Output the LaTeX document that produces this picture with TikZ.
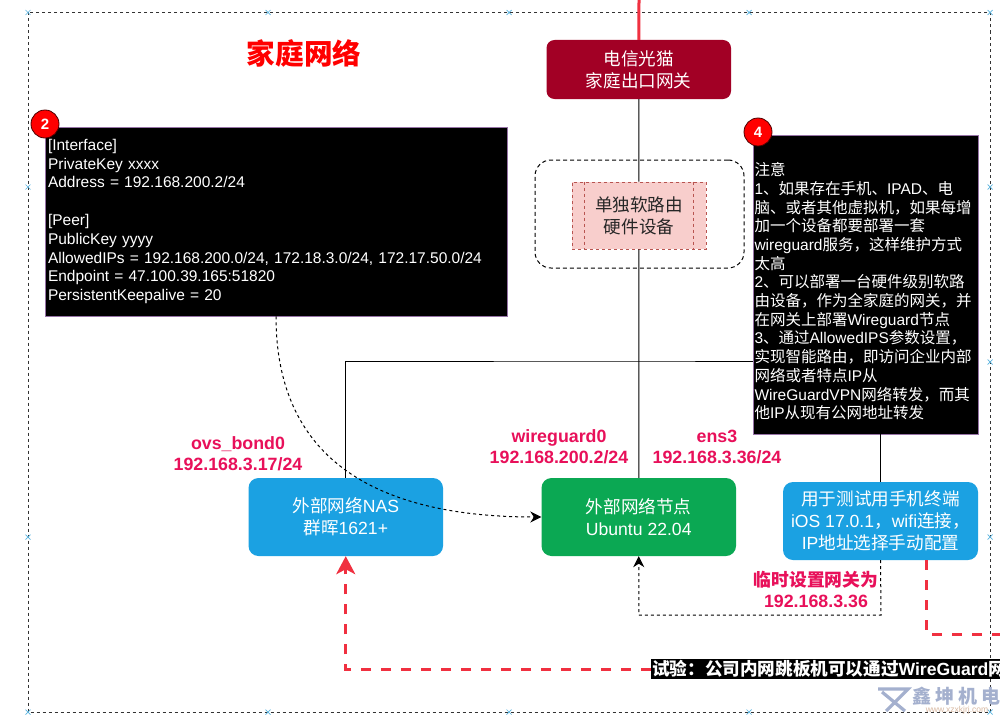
\documentclass[tikz,border=0pt]{standalone}
\usepackage{fontspec}
\usetikzlibrary{arrows.meta}
\setmainfont{Liberation Sans}
\newfontfamily\cjk{Noto Sans CJK SC}
\newcommand{\zh}[1]{{\cjk #1}}
\definecolor{modemred}{HTML}{A20025}
\definecolor{routerpink}{HTML}{F8CECC}
\definecolor{routerline}{HTML}{B85450}
\definecolor{nasblue}{HTML}{1BA1E2}
\definecolor{nodegreen}{HTML}{0BA853}
\definecolor{labelred}{HTML}{E8105A}
\definecolor{testred}{HTML}{F03040}
\definecolor{markblue}{HTML}{5AB4E0}
\definecolor{boxedge}{HTML}{9673A6}
\definecolor{wmgray}{HTML}{A4B0CE}
\definecolor{wmtan}{HTML}{D8B8A0}
\tikzset{
  devicebox/.style={rounded corners=10pt,text=white,align=center,font=\fontsize{17.6}{22}\selectfont,inner sep=0pt},
  blackbox/.style={fill=black,draw=boxedge,line width=0.9pt,text=white,align=left,inner sep=0pt},
  badge/.style={circle,fill=red,draw=black!70!red,line width=0.8pt,text=white,minimum size=28pt,inner sep=0pt,font=\fontsize{15}{15}\selectfont\bfseries},
  iplabel/.style={text=labelred,align=center,font=\fontsize{17.8}{21}\selectfont\bfseries,inner sep=0pt},
  testline/.style={testred,line width=3pt,dash pattern=on 10pt off 10pt},
  thinlink/.style={black,line width=1pt},
  dashlink/.style={black,line width=1pt,dash pattern=on 3pt off 3pt},
}
\begin{document}
\begin{tikzpicture}[x=1pt,y=-1pt]
  \useasboundingbox (0,0) rectangle (1000,717);
  \clip (0,0) rectangle (1000,717);
  \fill [white] (0,0) rectangle (1000,717);
  % outer frame
  \draw [black!80,line width=1pt,dash pattern=on 3pt off 3pt] (28,12.5) rectangle (990,712);
  \foreach \px/\py in {28/12.5,268/12.5,509/12.5,749/12.5,990/12.5,28/187,28/537,28/712,268/712,509/712,749/712,990/712,990/187,990/362,990/537}
    \draw [markblue,line width=0.7pt] (\px-2.5,\py-2.5) -- (\px+2.5,\py+2.5) (\px-2.5,\py+2.5) -- (\px+2.5,\py-2.5);
  \node (title) at (304,53) [text=red,inner sep=0pt,font=\fontsize{28.6}{28.6}\selectfont\cjk\bfseries] {家庭网络};
  % links behind the devices
  \coordinate (uplink) at (639,0);
  \coordinate (bus) at (639,361);
  \coordinate (testcorner) at (926,634);
  \coordinate (testend) at (1000,634);
  \node (routergroup) at (639.5,214) [draw=black,line width=1pt,dash pattern=on 4pt off 3pt,rounded corners=16pt,minimum width=209pt,minimum height=108pt] {};
  % devices
  \node (modem) at (638.75,69.5) [devicebox,fill=modemred,minimum width=184.5pt,minimum height=59pt,rounded corners=8pt] {\zh{电信光猫}\\\zh{家庭出口网关}};
  \node (router) at (639,215.5) [fill=routerpink,draw=routerline,line width=0.8pt,dash pattern=on 3pt off 3pt,minimum width=134pt,minimum height=67pt,inner sep=0pt,text=black!85,align=center,font=\fontsize{17.6}{22}\selectfont] {\zh{单独软路由}\\\zh{硬件设备}};
  \draw [routerline,line width=0.8pt,dash pattern=on 3pt off 3pt] ([xshift=13pt]router.north west) -- ([xshift=13pt]router.south west);
  \draw [routerline,line width=0.8pt,dash pattern=on 3pt off 3pt] ([xshift=-13pt]router.north east) -- ([xshift=-13pt]router.south east);
  \node (nas) at (345.75,517) [devicebox,fill=nasblue,minimum width=194.5pt,minimum height=78pt] {\zh{外部网络}NAS\\\zh{群晖}1621+};
  \node (ubuntu) at (638.75,517) [devicebox,fill=nodegreen,minimum width=194.5pt,minimum height=78pt] {\zh{外部网络节点}\\Ubuntu 22.04};
  \node (phone) at (880.5,521) [devicebox,fill=nasblue,minimum width=195pt,minimum height=78pt] {\zh{用于测试用手机终端}\\iOS 17.0.1\zh{，}wifi\zh{连接，}\\IP\zh{地址选择手动配置}};
  % configuration and note
  \node (peerbox) at (276,221.5) [blackbox,anchor=center,minimum width=462pt,minimum height=189pt,text width=456pt,font=\fontsize{15.5}{18.8}\selectfont] {[Interface]\\PrivateKey xxxx\\Address = 192.168.200.2/24\\[18.8pt][Peer]\\PublicKey yyyy\\AllowedIPs = 192.168.200.0/24, 172.18.3.0/24, 172.17.50.0/24\\Endpoint = 47.100.39.165:51820\\PersistentKeepalive = 20};
  \node (notebox) at (865.5,284.5) [blackbox,minimum width=225pt,minimum height=299pt,text width=222pt,font=\fontsize{15.5}{18.7}\selectfont] {\mbox{}\\[8pt]\zh{注意}\\1\zh{、如果存在手机、}IPAD\zh{、电}\\\zh{脑、或者其他虚拟机，如果每增}\\\zh{加一个设备都要部署一套}\\wireguard\zh{服务，这样维护方式}\\\zh{太高}\\2\zh{、可以部署一台硬件级别软路}\\\zh{由设备，作为全家庭的网关，并}\\\zh{在网关上部署}Wireguard\zh{节点}\\3\zh{、通过}AllowedIPS\zh{参数设置，}\\\zh{实现智能路由，即访问企业内部}\\\zh{网络或者特点}IP\zh{从}\\WireGuardVPN\zh{网络转发，而其}\\\zh{他}IP\zh{从现有公网地址转发}};
  \node (badgepeer) at (45,124) [badge] {2};
  \node (badgenote) at (758,132) [badge] {4};
  % addresses
  \node (nasip) at (238,453.5) [iplabel] {ovs\_bond0\\192.168.3.17/24};
  \node (wgip) at (559,446.5) [iplabel] {wireguard0\\192.168.200.2/24};
  \node (ensip) at (717,446.5) [iplabel] {ens3\\192.168.3.36/24};
  \node (gwlabel) at (816,589.5) [iplabel] {\zh{临时设置网关为}\\192.168.3.36};
  \node (testlabel) at (651,669) [anchor=west,fill=black,text=white,minimum width=360pt,minimum height=20pt,inner sep=1pt,align=left,text width=358pt,font=\fontsize{17.6}{17.6}\selectfont\bfseries] {\zh{试验：公司内网跳板机可以通过}WireGuard\zh{网}};
  % watermark
  \draw [wmgray,line width=3.2pt] (878,689) -- (908,689) -- (886,711) (882,692) -- (905,711);
  \node (wmtext) at (956.5,696) [text=wmgray,inner sep=0pt,font=\fontsize{19}{19}\selectfont\cjk\bfseries] {鑫\hspace{4pt}坤\hspace{4pt}机\hspace{4pt}电};
  \node (wmurl) at (957,710) [text=wmtan,inner sep=0pt,font=\fontsize{8.5}{8.5}\selectfont] {www.xzxkjrj.com};
  % links
  \draw [testred,line width=3pt] (uplink) -- (modem);
  \draw [thinlink] (modem) -- (router);
  \draw [thinlink] (router) -- (ubuntu);
  \draw [thinlink] (nas.north) |- (bus) -- (notebox.west |- bus);
  \draw [thinlink] (notebox.south -| phone.north) -- (phone.north);
  \draw [dashlink,-{Stealth[length=11pt,width=11pt]}] (peerbox.south) .. controls (276,455) and (370,517) .. (ubuntu.west);
  \draw [dashlink,-{Stealth[length=11pt,width=11pt]}] (phone.south) -- (881,615) -| (ubuntu.south);
  \draw [testline] (926,560) -- (testcorner) -- (testend);
  \draw [testline,-{Stealth[length=18pt,width=19pt,inset=5pt]}] (testlabel.west) -| (nas.south);
\end{tikzpicture}
\end{document}
